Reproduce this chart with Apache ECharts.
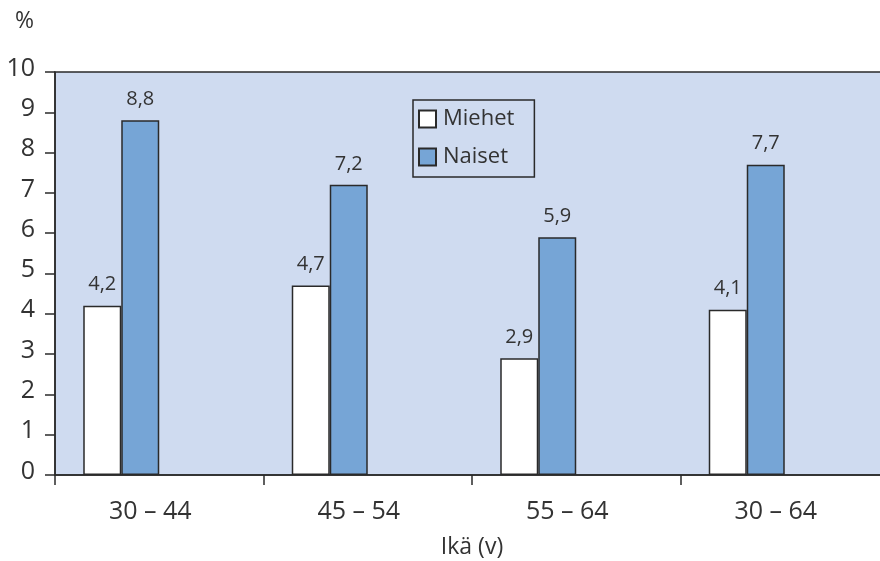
<!DOCTYPE html>
<html>
<head>
<meta charset="utf-8">
<script src="https://cdn.jsdelivr.net/npm/echarts@6/dist/echarts.min.js"></script>
<style>
  html, body { margin: 0; padding: 0; background: #ffffff; }
  #chart { width: 880px; height: 561px; }
</style>
</head>
<body>
<div id="chart"></div>
<script>
// Age groups and shares (%) by sex
const categories = ['30 – 44', '45 – 54', '55 – 64', '30 – 64'];
const miehet = [4.2, 4.7, 2.9, 4.1];
const naiset = [8.8, 7.2, 5.9, 7.7];
const seriesNames = ['Miehet', 'Naiset'];
const xAxisTitle = 'Ikä (v)';
const yAxisTitle = '%';

const FONT = 'Open Sans';
const INK = '#333333';
const EDGE = '#2a2a2a';

const fmt = p => String(p.value).replace('.', ',');

// Empty placeholder series keep the bar pair on the left half of each slot
const spacer = name => ({
  name: name,
  type: 'bar',
  barWidth: 38,
  barGap: '0%',
  data: categories.map(() => '-'),
  silent: true
});

const chart = echarts.init(document.getElementById('chart'), null, { renderer: 'canvas' });
chart.setOption({
  animation: false,
  textStyle: { fontFamily: FONT, color: INK },
  grid: {
    left: 55, top: 72, right: -9, bottom: 86,
    outerBoundsMode: 'none',
    containLabel: false,
    show: true,
    backgroundColor: '#cfdbf0',
    borderColor: EDGE,
    borderWidth: 1.5
  },
  legend: {
    data: seriesNames,
    orient: 'vertical',
    left: 413, top: 100,
    padding: [8, 20, 9, 5],
    icon: 'rect',
    itemWidth: 17, itemHeight: 17,
    itemGap: 16,
    textStyle: { fontFamily: FONT, fontSize: 22, color: INK, lineHeight: 22, padding: [0, 0, 0, 2] },
    borderColor: EDGE,
    borderWidth: 1.5,
    backgroundColor: 'transparent'
  },
  xAxis: {
    type: 'category',
    data: categories,
    name: xAxisTitle,
    nameLocation: 'middle',
    nameGap: 61,
    nameTextStyle: { fontFamily: FONT, fontSize: 23, color: INK },
    axisLine: { show: true, lineStyle: { color: EDGE, width: 1.5 } },
    axisTick: { show: true, length: 10, lineStyle: { color: EDGE, width: 1.5 } },
    axisLabel: { fontFamily: FONT, fontSize: 25, color: INK, margin: 24, padding: [0, 18, 0, 0] },
    splitLine: { show: false }
  },
  yAxis: {
    type: 'value',
    min: 0, max: 10, interval: 1,
    name: yAxisTitle,
    nameLocation: 'end',
    nameGap: 39,
    nameTextStyle: { fontFamily: FONT, fontSize: 23, color: INK, align: 'right', padding: [0, 21, 0, 0] },
    axisLine: { show: true, lineStyle: { color: EDGE, width: 1.5 } },
    axisTick: { show: true, length: 10, lineStyle: { color: EDGE, width: 1.5 } },
    axisLabel: { fontFamily: FONT, fontSize: 25, color: INK, margin: 20, verticalAlign: 'bottom', lineHeight: 7 },
    splitLine: { show: false }
  },
  series: [
    {
      name: seriesNames[0],
      type: 'bar',
      barWidth: 38,
      barGap: '0%',
      data: miehet,
      itemStyle: { color: '#ffffff', borderColor: EDGE, borderWidth: 1.5 },
      label: { show: true, position: 'top', distance: 11, formatter: fmt, fontFamily: FONT, fontSize: 20, color: INK }
    },
    {
      name: seriesNames[1],
      type: 'bar',
      barWidth: 38,
      barGap: '0%',
      data: naiset,
      itemStyle: { color: '#76a5d6', borderColor: EDGE, borderWidth: 1.5 },
      label: { show: true, position: 'top', distance: 11, formatter: fmt, fontFamily: FONT, fontSize: 20, color: INK }
    },
    spacer('_pad1'),
    spacer('_pad2')
  ]
});
</script>
</body>
</html>
